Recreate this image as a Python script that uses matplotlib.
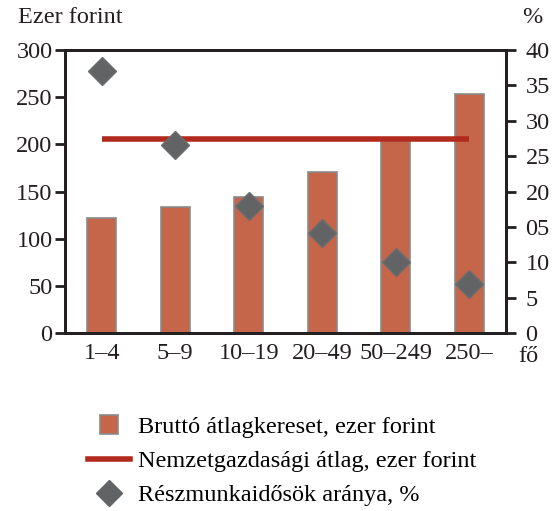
import matplotlib
matplotlib.use("Agg")
import matplotlib.pyplot as plt
from matplotlib.patches import Rectangle
from matplotlib.lines import Line2D
from matplotlib.legend_handler import HandlerPatch

categories = ["1–4", "5–9", "10–19", "20–49", "50–249", "250–"]
wages = [122, 134, 144, 171, 204, 253]
national_avg = [206, 206, 206, 206, 206, 206]
part_time = [37.0, 26.6, 17.9, 14.1, 10.0, 6.9]
left_ticks = [0, 50, 100, 150, 200, 250, 300]
right_ticks = [0, 5, 10, 15, 20, 25, 30, 35, 40]
right_tick_labels = ["0", "5", "10", "05", "20", "25", "30", "35", "40"]

plt.rcParams['font.family'] = ['Liberation Serif', 'DejaVu Serif']
FS = 17.5

fig = plt.figure(figsize=(5.56, 5.11), dpi=100)
ax = fig.add_axes([0.117, 0.348, 0.793, 0.554])
ax2 = ax.twinx()

x = list(range(len(categories)))
bar_color = "#C5654A"
line_color = "#B22A1E"
dia_color = "#616365"

bars = ax.bar(x, wages, width=0.4, color=bar_color, edgecolor="#8a8a8a", linewidth=1.2, zorder=2)
line, = ax.plot(x, national_avg, color=line_color, linewidth=4, solid_capstyle="butt", zorder=3)
pts, = ax2.plot(x, part_time, linestyle="none", marker="D", markersize=14.5, color=dia_color,
                markeredgecolor="#6b6d6f", zorder=4)

ax.set_xlim(-0.5, 5.5)
ax.set_ylim(0, 300)
ax2.set_ylim(0, 40)
ax.set_yticks(left_ticks)
ax.set_yticklabels([str(t) for t in left_ticks], fontsize=FS, color="#231f20")
ax2.set_yticks(right_ticks)
ax2.set_yticklabels(right_tick_labels, fontsize=FS, color="#231f20")
ax.set_xticks(x)
ax.set_xticklabels(categories, fontsize=FS, color="#231f20")
ax.tick_params(axis="x", length=0, pad=7)
ax.tick_params(axis="y", direction="out", length=7, width=2, color="#231f20", pad=2)
ax2.tick_params(axis="y", direction="out", length=7, width=2, color="#231f20", pad=7)
for a in (ax, ax2):
    for s in a.spines.values():
        s.set_linewidth(2)
        s.set_color("#231f20")
ax.set_zorder(ax2.get_zorder() - 1)
ax2.patch.set_visible(False)
ax2.set_zorder(1)
ax.patch.set_visible(True)

fig.text(0.032, 0.965, "Ezer forint", fontsize=FS, ha="left", va="center", color="#231f20")
fig.text(0.957, 0.965, "%", fontsize=FS, ha="center", va="center", color="#231f20")
fig.text(0.950, 0.302, "fő", fontsize=FS, ha="center", va="center", color="#231f20")

def square_patch(legend, orig_handle, xdescent, ydescent, width, height, fontsize):
    s = height * 1.1
    return Rectangle((width / 2 - s / 2 - xdescent, height / 2 - s / 2 - ydescent), s, s)

h_bar = Rectangle((0, 0), 1, 1, facecolor=bar_color, edgecolor="#8a8a8a", linewidth=1.2)
h_line = Line2D([], [], color=line_color, linewidth=4)
h_dia = Line2D([], [], linestyle="none", marker="D", markersize=13, color=dia_color)
fig.legend([h_bar, h_line, h_dia],
           ["Bruttó átlagkereset, ezer forint", "Nemzetgazdasági átlag, ezer forint",
            "Részmunkaidősök aránya, %"],
           loc="upper left", bbox_to_anchor=(0.158, 0.186), frameon=False, fontsize=FS,
           handlelength=1.75, handletextpad=0.33, labelspacing=0.5, borderaxespad=0,
           borderpad=0,
           handler_map={Rectangle: HandlerPatch(patch_func=square_patch)})

fig.savefig("out.png", dpi=100)
